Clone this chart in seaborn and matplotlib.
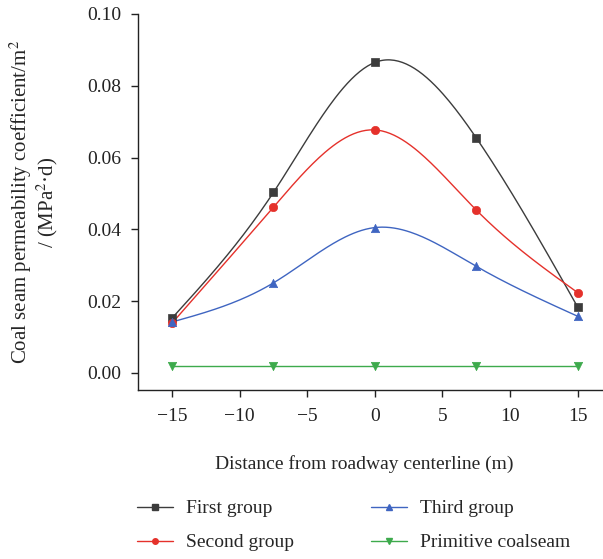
import numpy as np
import pandas as pd
import matplotlib
matplotlib.use("Agg")
import matplotlib.pyplot as plt
import seaborn as sns
from matplotlib.lines import Line2D

# --- data ---
distance = [-15, -7.5, 0, 7.5, 15]
first_group = [0.0153, 0.0503, 0.0865, 0.0655, 0.0184]
second_group = [0.0139, 0.0462, 0.0677, 0.0454, 0.0224]
third_group = [0.0142, 0.0251, 0.0405, 0.0297, 0.0158]
primitive = [0.0020, 0.0020, 0.0020, 0.0020, 0.0020]

series_names = ["First group", "Second group", "Third group", "Primitive coalseam"]
series_vals = [first_group, second_group, third_group, primitive]
colors = ["#3c3c3c", "#e5312b", "#3f65c1", "#3daa4c"]
markers = ["s", "o", "^", "v"]


def natural_spline(x, y, n=200):
    """Smooth connecting curve (natural cubic spline) like Origin's spline line."""
    x = np.asarray(x, float)
    y = np.asarray(y, float)
    k = len(x)
    h = np.diff(x)
    A = np.zeros((k, k))
    b = np.zeros(k)
    A[0, 0] = A[-1, -1] = 1
    for i in range(1, k - 1):
        A[i, i - 1] = h[i - 1]
        A[i, i] = 2 * (h[i - 1] + h[i])
        A[i, i + 1] = h[i]
        b[i] = 6 * ((y[i + 1] - y[i]) / h[i] - (y[i] - y[i - 1]) / h[i - 1])
    M = np.linalg.solve(A, b)
    xs = np.linspace(x[0], x[-1], n)
    idx = np.clip(np.searchsorted(x, xs) - 1, 0, k - 2)
    x0, x1 = x[idx], x[idx + 1]
    hh = x1 - x0
    t0, t1 = x1 - xs, xs - x0
    ys = (M[idx] * t0 ** 3 + M[idx + 1] * t1 ** 3) / (6 * hh) \
        + (y[idx] / hh - M[idx] * hh / 6) * t0 \
        + (y[idx + 1] / hh - M[idx + 1] * hh / 6) * t1
    return xs, ys


sns.set_theme(style="ticks")
plt.rcParams["font.family"] = ["Liberation Serif", "DejaVu Serif"]
plt.rcParams["mathtext.fontset"] = "stix"

fig = plt.figure(figsize=(6.03, 5.59), dpi=100)
ax = fig.add_axes([0.2294, 0.302, 0.78, 0.673])

handles = []
for name, vals, c, m in zip(series_names, series_vals, colors, markers):
    xs, ys = natural_spline(distance, vals)
    sns.lineplot(x=xs, y=ys, color=c, linewidth=1.0, ax=ax, sort=False)
    sns.scatterplot(x=distance, y=vals, color=c, marker=m, s=36,
                    edgecolor=c, linewidth=0.5, ax=ax, zorder=3)
    handles.append(Line2D([], [], color=c, linewidth=1.0, marker=m,
                          markersize=4, label=name))

ax.set_xlim(-17.5, 17.3)
ax.set_ylim(-0.0048, 0.10)
ax.set_xticks([-15, -10, -5, 0, 5, 10, 15])
ax.set_xticklabels(["\u221215", "\u221210", "\u22125", "0", "5", "10", "15"])
ax.set_yticks([0.0, 0.02, 0.04, 0.06, 0.08, 0.10])
ax.set_yticklabels([f"{v:.2f}" for v in [0.0, 0.02, 0.04, 0.06, 0.08, 0.10]])
ax.tick_params(direction="out", length=5, width=1, labelsize=14, colors="#222222")
ax.tick_params(axis="y", pad=7)
ax.tick_params(axis="x", pad=8)
for s in ["top", "right"]:
    ax.spines[s].set_visible(False)
for s in ["left", "bottom"]:
    ax.spines[s].set_linewidth(1.0)
    ax.spines[s].set_color("#222222")

ax.set_xlabel("Distance from roadway centerline (m)", fontsize=14, labelpad=20)
ax.xaxis.set_label_coords(0.48, -0.173)
ax.set_ylabel("Coal seam permeability coefficient/m$^2$\n/ (MPa$^2$\u00b7d)",
              fontsize=15, labelpad=20, linespacing=1.0)

fig.legend(handles=handles, loc="upper left", bbox_to_anchor=(0.227, 0.106),
           ncol=2, frameon=False, fontsize=14, handlelength=1.85,
           columnspacing=3.95, labelspacing=0.85, handletextpad=0.67,
           borderpad=0, borderaxespad=0)

fig.savefig("out.png", dpi=100)
